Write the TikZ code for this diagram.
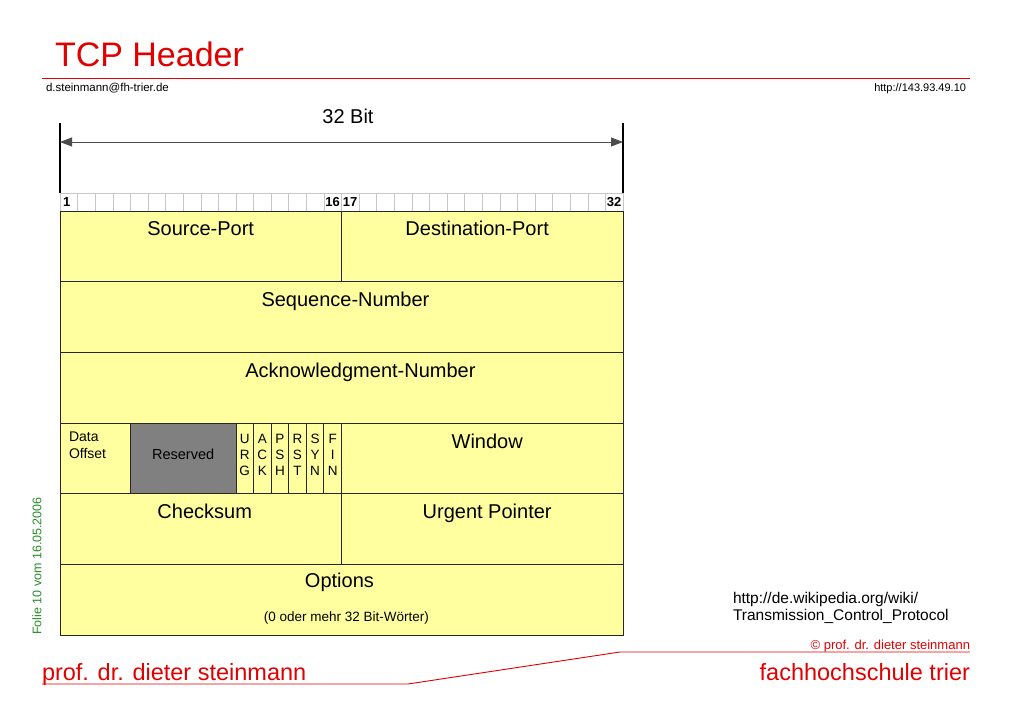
\documentclass[tikz,border=0pt]{standalone}
\usepackage{fontspec}
\setmainfont{Liberation Sans}
\usetikzlibrary{arrows.meta,positioning}
\definecolor{fhred}{RGB}{225,0,0}
\definecolor{fhgreen}{RGB}{40,140,40}
\definecolor{fieldyel}{RGB}{255,255,160}
\definecolor{resgray}{RGB}{128,128,128}
\definecolor{tabline}{RGB}{40,40,30}
\newcommand{\fsz}[2]{\fontsize{#1}{#2}\selectfont}

\begin{document}
\begin{tikzpicture}[x=1pt,y=-1pt,>={Triangle[length=12pt,width=9pt]},
  every node/.style={inner sep=0pt,outer sep=0pt}]
\tikzstyle{cell}=[draw=tabline,line width=0.8pt,fill=fieldyel,minimum height=70.67pt,anchor=north west]
\tikzstyle{flagcell}=[cell,minimum width=17.59pt]
\tikzstyle{bitcell}=[draw=black!22,minimum width=17.59pt,minimum height=18pt,anchor=north west]
\tikzstyle{bitnum}=[font=\bfseries\fsz{13}{15}]
\tikzstyle{fld}=[font=\fsz{20}{24},anchor=base]
\tikzstyle{flagtxt}=[font=\fsz{13.5}{16},align=center,anchor=north]
\useasboundingbox (0,0) rectangle (1023,708);
% slide head
\node[font=\fsz{34}{40},text=fhred,anchor=base west] (title) at (55,67) {TCP Header};
\draw[fhred,line width=0.9pt] (42,78) -- (970,78);
\node[font=\fsz{11.5}{14},anchor=base west] (mail) at (46,92) {d.steinmann@fh-trier.de};
\node[font=\fsz{11}{14},anchor=base east] (ip) at (966,92) {http://143.93.49.10};
% width arrow
\coordinate (ltop) at (60,123); \coordinate (lbot) at (60,193);
\coordinate (rtop) at (623,123); \coordinate (rbot) at (623,193);
\coordinate (lmid) at (60,142); \coordinate (rmid) at (623,142);
\draw[line width=1.3pt] (ltop) -- (lbot);
\draw[line width=1.3pt] (rtop) -- (rbot);
\draw[<->,draw=black!70,line width=0.8pt] (lmid) -- (rmid);
\node[fld] (bits) at (348,124) {32 Bit};
% bit ruler
\foreach \i in {1,...,32}
  \node[bitcell] (b\i) at ({60+(\i-1)*17.59},193) {};
\node[bitnum,anchor=base west] at ([xshift=3pt,yshift=-13.5pt]b1.north west) {1};
\node[bitnum,anchor=base east] at ([xshift=-1.5pt,yshift=-13.5pt]b16.north east) {16};
\node[bitnum,anchor=base west] at ([xshift=1.5pt,yshift=-13.5pt]b17.north west) {17};
\node[bitnum,anchor=base east] at ([xshift=-1.5pt,yshift=-13.5pt]b32.north east) {32};
% header fields
\node[cell,minimum width=281.4pt] (sport) at (60,211) {};
\node[cell,minimum width=281.5pt,right=0pt of sport] (dport) {};
\node[cell,minimum width=562.9pt,below=0pt of sport.south west,anchor=north west] (seq) {};
\node[cell,minimum width=562.9pt,below=0pt of seq.south west,anchor=north west] (ack) {};
\node[cell,minimum width=70.36pt,below=0pt of ack.south west,anchor=north west] (doff) {};
\node[cell,minimum width=105.55pt,fill=resgray,right=0pt of doff] (resv) {};
\node[flagcell,right=0pt of resv] (urg) {};
\node[flagcell,right=0pt of urg] (ackf) {};
\node[flagcell,right=0pt of ackf] (psh) {};
\node[flagcell,right=0pt of psh] (rst) {};
\node[flagcell,right=0pt of rst] (syn) {};
\node[flagcell,right=0pt of syn] (fin) {};
\node[cell,minimum width=281.5pt,right=0pt of fin] (win) {};
\node[cell,minimum width=281.4pt,below=0pt of doff.south west,anchor=north west] (csum) {};
\node[cell,minimum width=281.5pt,right=0pt of csum] (urgp) {};
\node[cell,minimum width=562.9pt,below=0pt of csum.south west,anchor=north west] (opt) {};
% field texts
\node[fld] at ([yshift=-25pt]sport.north) {Source-Port};
\node[fld] at ([xshift=-5pt,yshift=-25pt]dport.north) {Destination-Port};
\node[fld] at ([xshift=4pt,yshift=-25pt]seq.north) {Sequence-Number};
\node[fld] at ([xshift=19pt,yshift=-25pt]ack.north) {Acknowledgment-Number};
\node[font=\fsz{14}{17},align=left,anchor=north west] at ([xshift=9pt,yshift=-9pt]doff.north west) {Data\\Offset};
\node[font=\fsz{14.5}{17},anchor=base] at ([yshift=-36pt]resv.north) {Reserved};
\node[flagtxt] at ([yshift=-11pt]urg.north) {U\\R\\G};
\node[flagtxt] at ([yshift=-11pt]ackf.north) {A\\C\\K};
\node[flagtxt] at ([yshift=-11pt]psh.north) {P\\S\\H};
\node[flagtxt] at ([yshift=-11pt]rst.north) {R\\S\\T};
\node[flagtxt] at ([yshift=-11pt]syn.north) {S\\Y\\N};
\node[flagtxt] at ([yshift=-11pt]fin.north) {F\\I\\N};
\node[fld] at ([xshift=5pt,yshift=-25pt]win.north) {Window};
\node[fld] at ([xshift=4pt,yshift=-25pt]csum.north) {Checksum};
\node[fld] at ([xshift=5pt,yshift=-25pt]urgp.north) {Urgent Pointer};
\node[fld] at ([xshift=-2pt,yshift=-23pt]opt.north) {Options};
\node[font=\fsz{13.5}{16},anchor=base] at ([xshift=5pt,yshift=14pt]opt.south) {(0 oder mehr 32 Bit-Wörter)};
% side and foot
\node[rotate=90,font=\fsz{12.5}{15},text=fhgreen] (folie) at (37,566) {Folie 10 vom 16.05.2006};
\node[font=\fsz{15.5}{17},align=left,anchor=north west] (wiki) at (733,592) {http://de.wikipedia.org/wiki/\\Transmission\_Control\_Protocol};
\node[font=\fsz{13}{15},text=fhred,anchor=base east] (copy) at (970,649) {© prof. dr. dieter steinmann};
\draw[fhred,line width=0.9pt] (42,684) -- (408,684) -- (620,652) -- (970,652);
\node[font=\fsz{23.5}{28},text=fhred,anchor=base west] (prof) at (42,680) {prof. dr. dieter steinmann};
\node[font=\fsz{23.5}{28},text=fhred,anchor=base east] (fh) at (970,680) {fachhochschule trier};
\end{tikzpicture}
\end{document}
